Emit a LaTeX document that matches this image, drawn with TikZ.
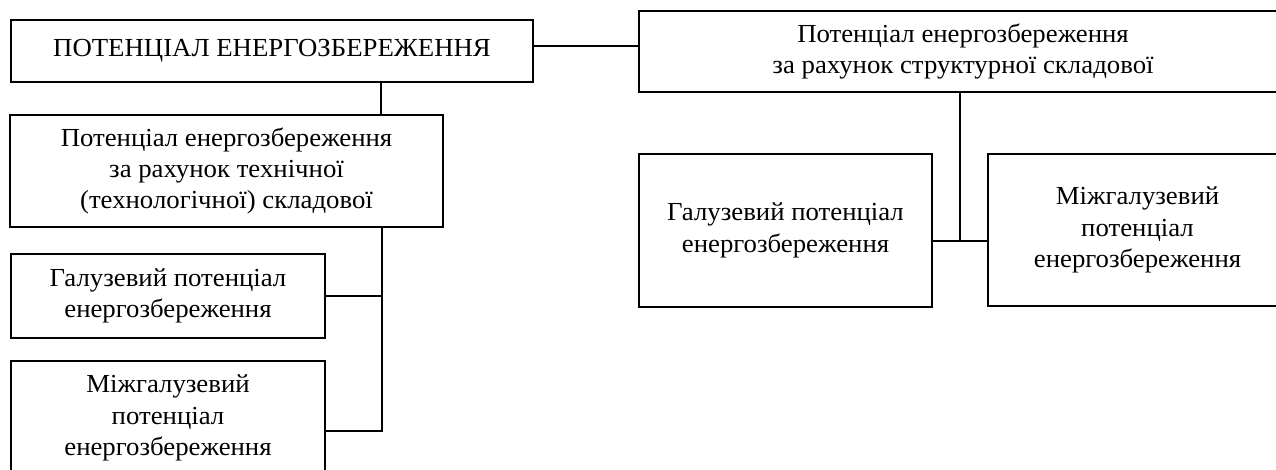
\documentclass[tikz,border=0pt]{standalone}
\usepackage{fontspec}
\setmainfont[FakeStretch=1.03]{Liberation Serif}
\begin{document}
\begin{tikzpicture}[x=0.75pt,y=-0.75pt,
  box/.style={draw,line width=1pt,inner sep=0pt,outer sep=0pt,align=center,
    font=\fontsize{19.5}{23.5}\selectfont},
  conn/.style={line width=1pt}]
\useasboundingbox (0,0) rectangle (1276,470);
\clip (0,0) rectangle (1276,470);
% boxes
\node[box,minimum width=391.5pt,minimum height=46.5pt] (A) at (272,51)
  {\raisebox{3.4pt}{ПОТЕНЦІАЛ ЕНЕРГОЗБЕРЕЖЕННЯ}};
\node[box,minimum width=324.75pt,minimum height=84pt] (B) at (226.5,171)
  {\raisebox{-1.2pt}{\parbox{300pt}{\centering Потенціал енергозбереження\\за рахунок технічної\\(технологічної) складової}}};
\node[box,minimum width=235.5pt,minimum height=63pt] (C) at (168,296)
  {Галузевий потенціал\\енергозбереження};
\node[box,minimum width=235.5pt,minimum height=85.5pt] (D) at (168,418)
  {Міжгалузевий\\потенціал\\енергозбереження};
\node[box,minimum width=486pt,minimum height=60.75pt] (E) at (963,51.5)
  {Потенціал енергозбереження\\за рахунок структурної складової};
\node[box,minimum width=219.75pt,minimum height=114.75pt] (F) at (785.5,230.5)
  {Галузевий потенціал\\енергозбереження};
\node[box,minimum width=224.25pt,minimum height=114pt] (G) at (1137.5,230)
  {Міжгалузевий\\потенціал\\енергозбереження};
% connectors
\coordinate (ae) at ([yshift=3.75pt]A.east);
\draw[conn] (ae) -- (ae -| E.west);
\coordinate (xab) at (381,0);
\draw[conn] (A.south -| xab) -- (B.north -| xab);
\coordinate (xb) at (382,0);
\coordinate (dd) at ([yshift=-9.75pt]D.east);
\draw[conn] (B.south -| xb) -- (xb |- dd) -- (dd);
\draw[conn] (C.east) -- (C.east -| xb);
\coordinate (xe) at (960,0);
\coordinate (fg) at ([yshift=-7.9pt]F.east);
\draw[conn] (E.south -| xe) -- (xe |- fg);
\draw[conn] (fg) -- (fg -| G.west);
\end{tikzpicture}
\end{document}
